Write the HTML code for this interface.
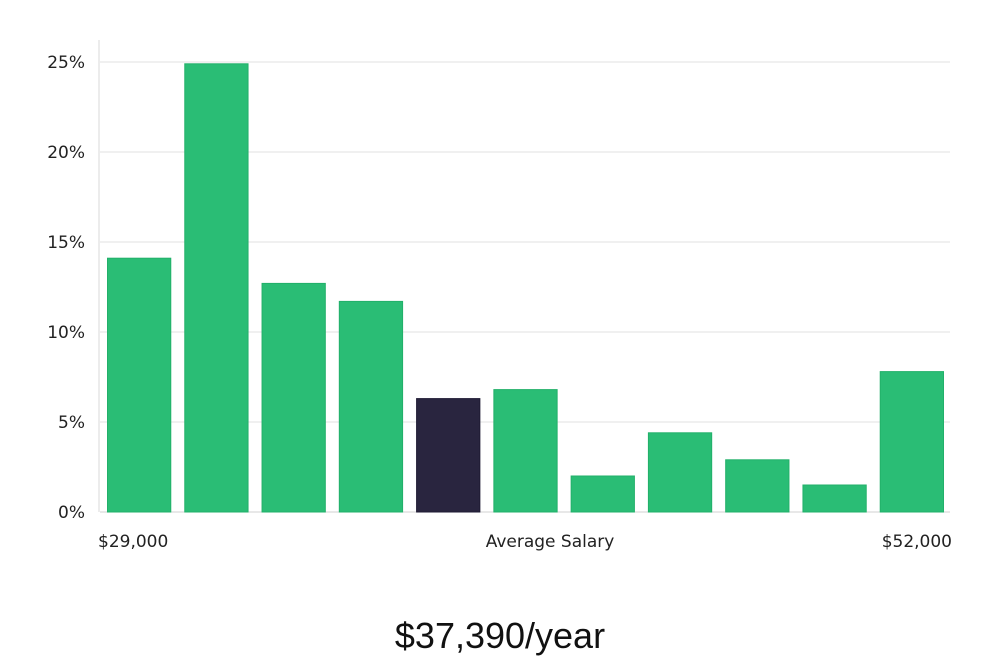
<!DOCTYPE html>
<html><head><meta charset="utf-8"><style>
body{margin:0;background:#fff;width:1000px;height:660px;overflow:hidden;font-family:"DejaVu Sans","Liberation Sans",sans-serif;}
</style></head><body>
<svg id="chart" width="1000" height="660" xmlns="http://www.w3.org/2000/svg"></svg>
<script>
const categories=["b1","b2","b3","b4","b5","b6","b7","b8","b9","b10","b11"];
const values=[14.1,24.9,12.7,11.7,6.3,6.8,2.0,4.4,2.9,1.5,7.8];
const highlight=[false,false,false,false,true,false,false,false,false,false,false];
const yTicks=[0,5,10,15,20,25];
const yTickLabels=["0%","5%","10%","15%","20%","25%"];
const xLabels=["$29,000","Average Salary","$52,000"];
const title="$37,390/year";
const NS="http://www.w3.org/2000/svg";
const svg=document.getElementById('chart');
const L=100,R=950,T=40,B=512,yMax=25,yTop=62;
const y=v=>B-(B-yTop)*v/yMax;
const slot=(R-L)/categories.length;
const x=i=>L+i*slot;
function mk(tag,attrs){const e=document.createElementNS(NS,tag);for(const k in attrs)e.setAttribute(k,attrs[k]);svg.appendChild(e);return e;}
yTicks.forEach((t,i)=>{
 const g=mk('line',{x1:L,x2:R,y1:y(t),y2:y(t),stroke:t===0?'#d0d0d0':'#e2e2e2','stroke-width':1});
 
 
 const tx=mk('text',{x:85,y:y(t)+6,'text-anchor':'end','font-size':17,fill:'#222'});
 tx.textContent=yTickLabels[i];
 
 
});
const ax=mk('line',{x1:L-1,x2:L-1,y1:T,y2:B,stroke:'#d8d8d8','stroke-width':1});


values.forEach((v,i)=>{
 const r=mk('rect',{x:x(i)+7.5,y:y(v),width:slot-14,height:B-y(v),fill:highlight[i]?'#29253f':'#2abd75',stroke:highlight[i]?'#1e1a33':'#22b06a','stroke-width':1});
 
 
});
const xl=[[L-2,'start'],[(L+R)/2+25,'middle'],[R+2,'end']];
xLabels.forEach((s,i)=>{
 const t=mk('text',{x:xl[i][0],y:547,'text-anchor':xl[i][1],'font-size':17,fill:'#222'});
 t.textContent=s;
 
 
});
const tt=mk('text',{x:500,y:648,'text-anchor':'middle','font-size':36,fill:'#111','font-family':'"Liberation Sans",sans-serif'});
tt.textContent=title;


</script>
</body></html>
